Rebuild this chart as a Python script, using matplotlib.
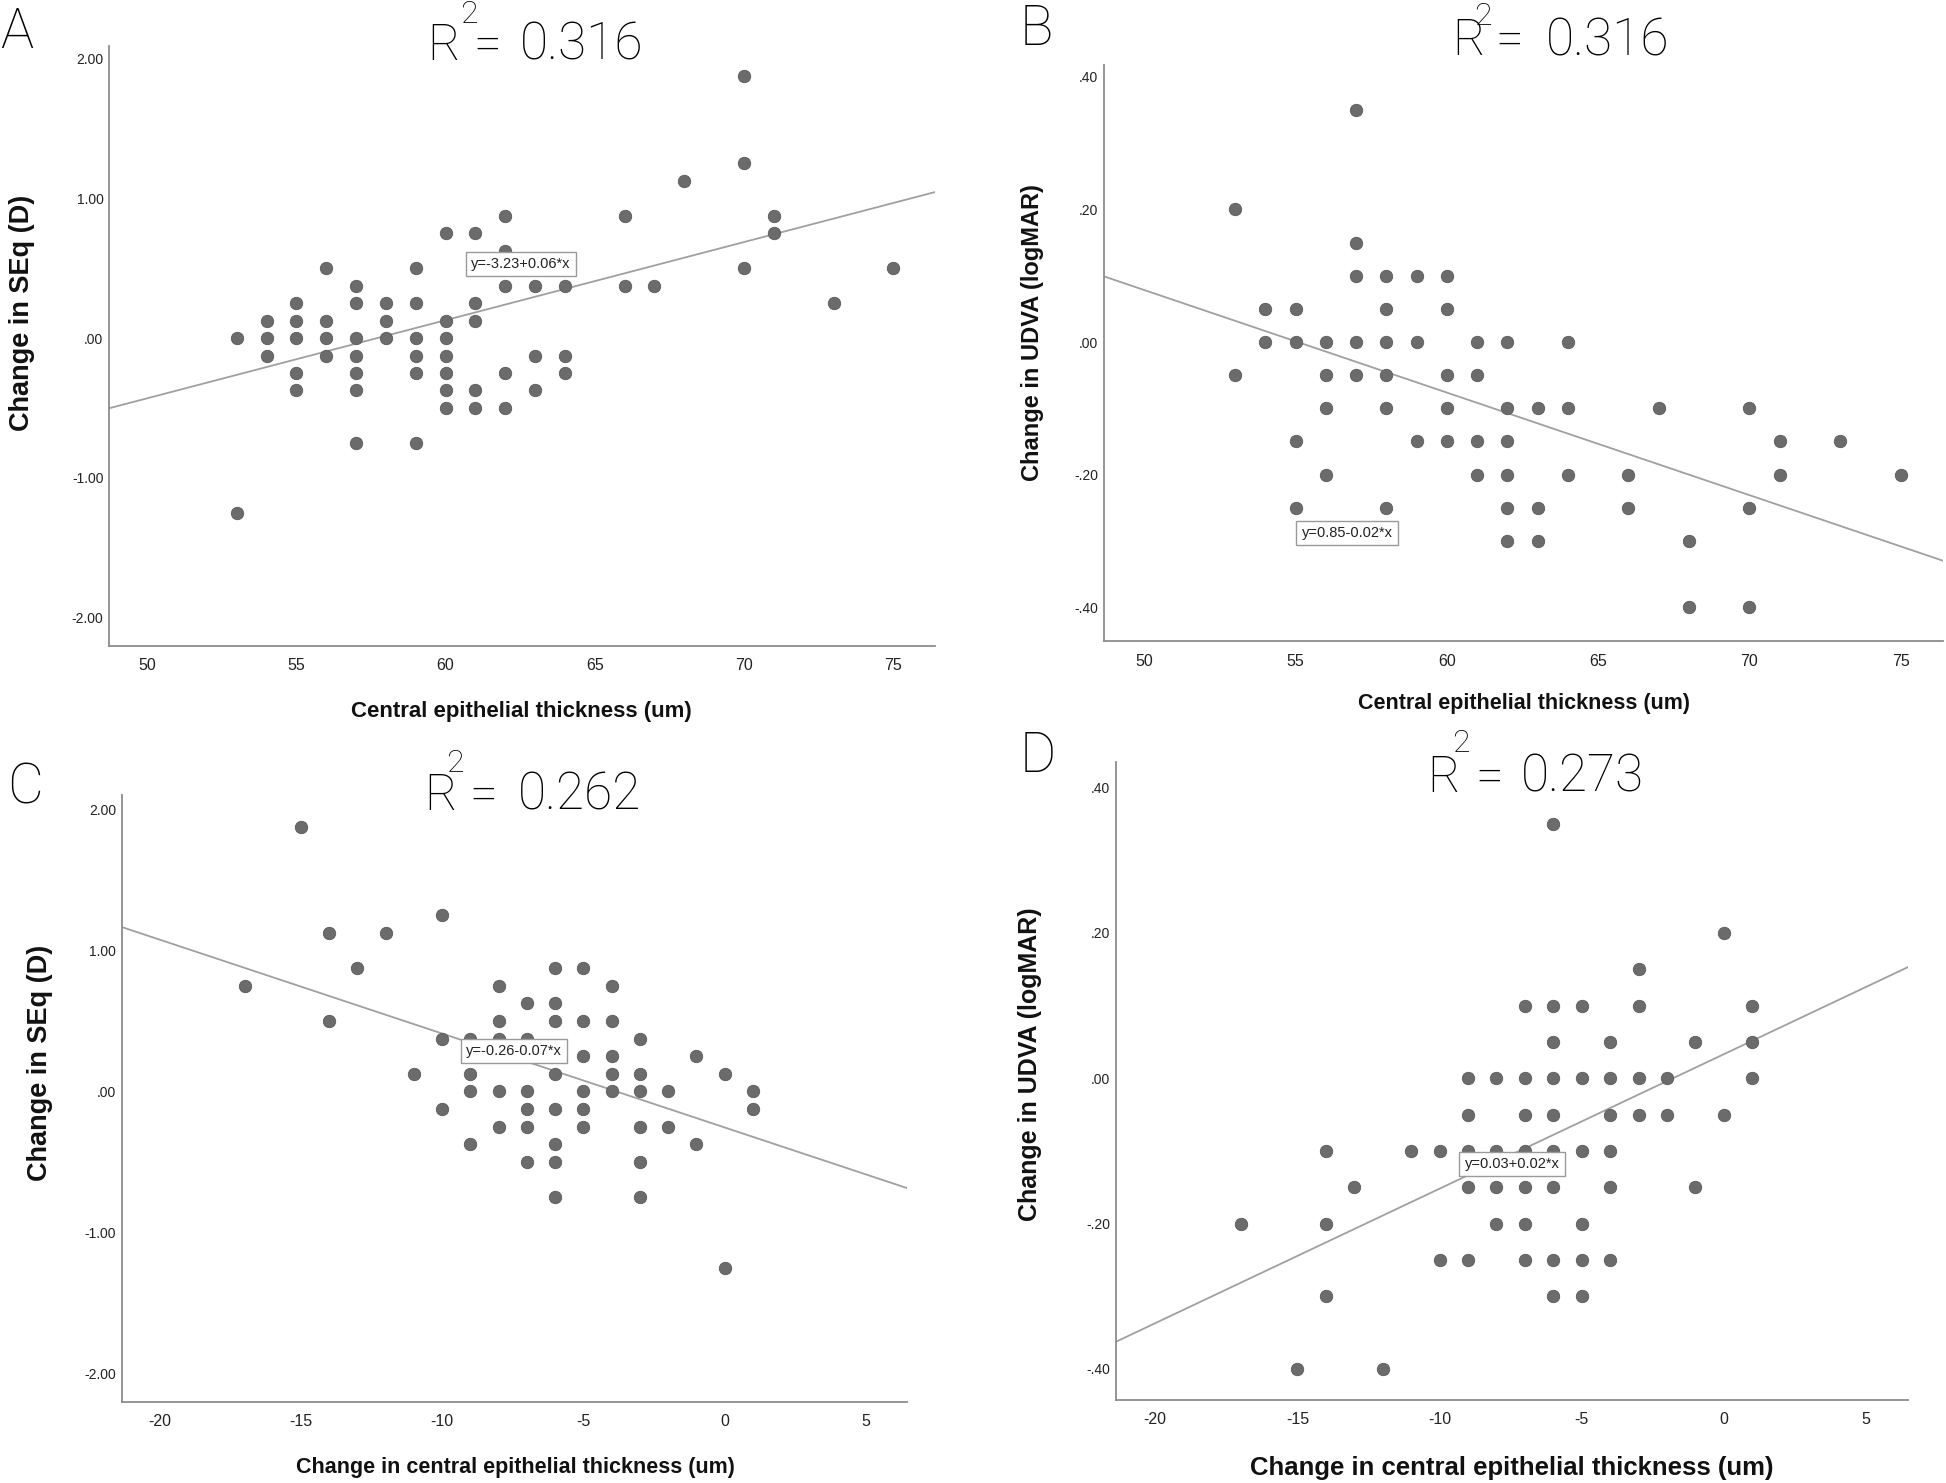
import matplotlib
matplotlib.use("Agg")
import matplotlib.pyplot as plt
import numpy as np

# ---- data ----
# A: central epithelial thickness vs change in SEq
a_x = [53, 53, 54, 54, 54, 55, 55, 55, 55, 55, 56, 56, 56, 56,
       57, 57, 57, 57, 57, 57, 57, 58, 58, 58, 59, 59, 59, 59, 59, 59,
       60, 60, 60, 60, 60, 60, 60, 61, 61, 61, 61, 61, 62, 62, 62, 62, 62,
       63, 63, 63, 64, 64, 64, 66, 66, 67, 68, 70, 70, 70, 71, 71, 73, 75]
a_y = [0, -1.25, 0.125, 0, -0.125, 0.25, 0.125, 0, -0.25, -0.375, 0.5, 0.125, 0, -0.125,
       0.375, 0.25, 0, -0.125, -0.25, -0.375, -0.75, 0.25, 0.125, 0, 0.5, 0.25, 0, -0.125, -0.25, -0.75,
       0.75, 0.125, 0, -0.125, -0.25, -0.375, -0.5, 0.75, 0.25, 0.125, -0.375, -0.5, 0.875, 0.625, 0.375, -0.25, -0.5,
       0.375, -0.125, -0.375, 0.375, -0.125, -0.25, 0.875, 0.375, 0.375, 1.125, 1.875, 1.25, 0.5, 0.875, 0.75, 0.25, 0.5]

# B: central epithelial thickness vs change in UDVA
b_x = [53, 53, 54, 54, 55, 55, 55, 55, 56, 56, 56, 56, 57, 57, 57, 57, 57,
       58, 58, 58, 58, 58, 58, 59, 59, 59, 60, 60, 60, 60, 60, 61, 61, 61, 61,
       62, 62, 62, 62, 62, 62, 63, 63, 63, 64, 64, 64, 66, 66, 67, 68, 68,
       70, 70, 70, 71, 71, 73, 75]
b_y = [0.20, -0.05, 0.05, 0, 0.05, 0, -0.15, -0.25, 0, -0.05, -0.10, -0.20, 0.35, 0.15, 0.10, 0, -0.05,
       0.10, 0.05, 0, -0.05, -0.10, -0.25, 0.10, 0, -0.15, 0.10, 0.05, -0.05, -0.10, -0.15, 0, -0.05, -0.15, -0.20,
       0, -0.10, -0.15, -0.20, -0.25, -0.30, -0.10, -0.25, -0.30, 0, -0.10, -0.20, -0.20, -0.25, -0.10, -0.30, -0.40,
       -0.10, -0.25, -0.40, -0.15, -0.20, -0.15, -0.20]

# C: change in central epithelial thickness vs change in SEq
c_x = [-17, -15, -14, -14, -13, -12, -11, -10, -10, -10, -9, -9, -9, -9,
       -8, -8, -8, -8, -8, -7, -7, -7, -7, -7, -7,
       -6, -6, -6, -6, -6, -6, -6, -6, -5, -5, -5, -5, -5, -5,
       -4, -4, -4, -4, -4, -3, -3, -3, -3, -3, -3, -2, -2, -1, -1, 0, 0, 1, 1]
c_y = [0.75, 1.875, 1.125, 0.5, 0.875, 1.125, 0.125, 1.25, 0.375, -0.125, 0.375, 0.125, 0, -0.375,
       0.75, 0.5, 0.375, 0, -0.25, 0.625, 0.375, 0, -0.125, -0.25, -0.5,
       0.875, 0.625, 0.5, 0.125, -0.125, -0.375, -0.5, -0.75, 0.875, 0.5, 0.25, 0, -0.125, -0.25,
       0.75, 0.5, 0.25, 0.125, 0, 0.375, 0.125, 0, -0.25, -0.5, -0.75, 0, -0.25, 0.25, -0.375, 0.125, -1.25, 0, -0.125]

# D: change in central epithelial thickness vs change in UDVA
d_x = [-17, -15, -14, -14, -14, -13, -12, -11, -10, -10,
       -9, -9, -9, -9, -9, -8, -8, -8, -8,
       -7, -7, -7, -7, -7, -7, -7, -6, -6, -6, -6, -6, -6, -6, -6, -6,
       -5, -5, -5, -5, -5, -5, -4, -4, -4, -4, -4, -4, -3, -3, -3, -3,
       -2, -2, -1, -1, 0, 0, 1, 1, 1]
d_y = [-0.20, -0.40, -0.10, -0.20, -0.30, -0.15, -0.40, -0.10, -0.10, -0.25,
       0, -0.05, -0.10, -0.15, -0.25, 0, -0.10, -0.15, -0.20,
       0.10, 0, -0.05, -0.10, -0.15, -0.20, -0.25, 0.35, 0.10, 0.05, 0, -0.05, -0.10, -0.15, -0.25, -0.30,
       0.10, 0, -0.10, -0.20, -0.25, -0.30, 0.05, 0, -0.05, -0.10, -0.15, -0.25, 0.15, 0.10, 0, -0.05,
       0, -0.05, 0.05, -0.15, 0.20, -0.05, 0.10, 0.05, 0]

# fit lines (intercept, slope) as drawn
a_fit = [-3.226, 0.0559]
b_fit = [0.852, -0.01547]
c_fit = [-0.255, -0.0665]
d_fit = [0.033, 0.0185]

r2_labels = ["0.316", "0.316", "0.262", "0.273"]
eq_labels = ["y=-3.23+0.06*x", "y=0.85-0.02*x", "y=-0.26-0.07*x", "y=0.03+0.02*x"]
panel_letters = ["A", "B", "C", "D"]

sed_ticks = [2, 1, 0, -1, -2]
sed_tick_labels = ["2.00", "1.00", ".00", "-1.00", "-2.00"]
va_ticks = [0.4, 0.2, 0, -0.2, -0.4]
va_tick_labels = [".40", ".20", ".00", "-.20", "-.40"]
cet_ticks = [50, 55, 60, 65, 70, 75]
chg_ticks = [-20, -15, -10, -5, 0, 5]

W, H = 1946, 1483
fig = plt.figure(figsize=(W / 100, H / 100), dpi=100)
plt.rcParams['font.family'] = ['Liberation Sans', 'DejaVu Sans']

def fx(px):
    return px / W

def fy(py):
    return 1 - py / H

def panel(box, xs, ys, fit, xlim, ylim, yticks, yticklabels, xticks):
    l, r, t, b = box
    ax = fig.add_axes([fx(l), fy(b), (r - l) / W, (b - t) / H])
    ax.scatter(xs, ys, s=80, color='#6b6b6b', edgecolors='#5a5a5a', linewidths=0.6, zorder=3)
    lx = np.array(xlim)
    ax.plot(lx, fit[0] + fit[1] * lx, color='#a0a0a0', lw=1.3, zorder=2)
    ax.set_xlim(xlim)
    ax.set_ylim(ylim)
    ax.set_yticks(yticks)
    ax.set_yticklabels(yticklabels)
    ax.set_xticks(xticks)
    ax.set_xticklabels([str(v) for v in xticks])
    ax.tick_params(axis='y', length=0, pad=4, labelsize=10, labelcolor='#222222')
    ax.tick_params(axis='x', length=0, pad=9, labelsize=11.5, labelcolor='#222222')
    for s in ['top', 'right']:
        ax.spines[s].set_visible(False)
    for s in ['left', 'bottom']:
        ax.spines[s].set_color('#8c8c8c')
        ax.spines[s].set_linewidth(1.3)
    return ax

axA = panel((109, 935, 46, 645.5), a_x, a_y, a_fit, (48.72, 76.4), (-2.2, 2.09),
            sed_ticks, sed_tick_labels, cet_ticks)
axB = panel((1104, 1943, 65, 641), b_x, b_y, b_fit, (48.67, 76.4), (-0.451, 0.418),
            va_ticks, va_tick_labels, cet_ticks)
axC = panel((121.7, 907, 795, 1402), c_x, c_y, c_fit, (-21.35, 6.46), (-2.2, 2.1),
            sed_ticks, sed_tick_labels, chg_ticks)
axD = panel((1116, 1908, 762, 1399.5), d_x, d_y, d_fit, (-21.38, 6.48), (-0.442, 0.435),
            va_ticks, va_tick_labels, chg_ticks)

# axis labels (placed in figure pixels)
bold = dict(fontweight='bold', color='#111111')
fig.text(fx(521), fy(712), "Central epithelial thickness (um)", ha='center', va='center', fontsize=16, **bold)
fig.text(fx(1524), fy(704), "Central epithelial thickness (um)", ha='center', va='center', fontsize=15.5, **bold)
fig.text(fx(515), fy(1468), "Change in central epithelial thickness (um)", ha='center', va='center', fontsize=15.5, **bold)
fig.text(fx(1512), fy(1468), "Change in central epithelial thickness (um)", ha='center', va='center', fontsize=18.5, **bold)
fig.text(fx(22), fy(313), "Change in SEq (D)", ha='center', va='center', rotation=90, fontsize=19.5, **bold)
fig.text(fx(1033), fy(333), "Change in UDVA (logMAR)", ha='center', va='center', rotation=90, fontsize=17, **bold)
fig.text(fx(40), fy(1063), "Change in SEq (D)", ha='center', va='center', rotation=90, fontsize=19.5, **bold)
fig.text(fx(1030), fy(1064), "Change in UDVA (logMAR)", ha='center', va='center', rotation=90, fontsize=18, **bold)

# R^2 titles: "R", "=", value, raised "2"  (x_R, x_eq, x_val, baseline, x_2, baseline_2)
thin = dict(family=['Roboto', 'DejaVu Sans'], fontweight='light', color='#000000')
title_pos = [(427, 473, 520, 60, 460, 23), (1452, 1495, 1546, 55, 1474, 25),
             (424, 469, 518, 810, 446, 772), (1427, 1475, 1521, 792, 1452, 752)]
for lab, (rx, ex, vx, by, sx, sy) in zip(r2_labels, title_pos):
    fig.text(fx(rx), fy(by), "R", ha='left', va='baseline', fontsize=36, **thin)
    fig.text(fx(ex), fy(by), "=", ha='left', va='baseline', fontsize=36, **thin)
    fig.text(fx(vx), fy(by), lab, ha='left', va='baseline', fontsize=37, **thin)
    fig.text(fx(sx), fy(sy), "2", ha='left', va='baseline', fontsize=23, **thin)

letter_pos = [(0, 48), (1020, 45), (7, 803), (1020, 772)]
for let, (lx, ly) in zip(panel_letters, letter_pos):
    fig.text(fx(lx), fy(ly), let, ha='left', va='baseline', fontsize=40, **thin)

# equation boxes
eq_pos = [(521, 264), (1347, 533), (514, 1051), (1512, 1164)]
for lab, (ex, ey) in zip(eq_labels, eq_pos):
    fig.text(fx(ex), fy(ey), lab, ha='center', va='center', fontsize=10.5, color='#222222', zorder=10,
             bbox=dict(boxstyle='square,pad=0.35', facecolor='white', edgecolor='#9a9a9a', linewidth=1))

fig.savefig("out.png", dpi=100, facecolor='white')
